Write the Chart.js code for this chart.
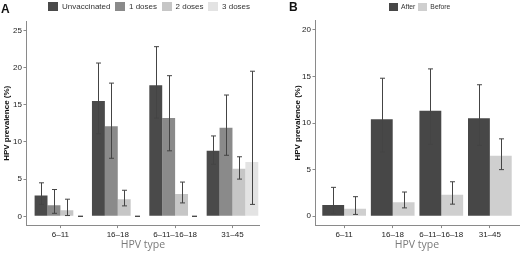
<!DOCTYPE html>
<html>
<head>
<meta charset="utf-8">
<script src="https://cdn.jsdelivr.net/npm/chart.js@4/dist/chart.umd.min.js"></script>
<style>
    body { margin: 0; background: #fff; font-family: "Liberation Sans", Arial, sans-serif; }
    .panel { position: absolute; top: 0; width: 260px; height: 253px; }
    #panelA { left: 0; }
    #panelB { left: 260px; }
    .tag { position: absolute; font: bold 12px/12px "Liberation Sans", Arial, sans-serif; color: #111; }
    .legend { position: absolute; top: 2px; display: flex; align-items: center; color: #333; white-space: nowrap; }
    .legend .item { display: flex; align-items: center; }
    #legendA { font-size: 8px; }
    #legendA .item { margin-right: 4.5px; }
    #legendA .box { width: 10px; height: 9px; margin-right: 4px; }
    #legendB { font-size: 6.8px; top: 2.5px; }
    #legendB .item { margin-right: 3px; }
    #legendB .box { width: 9px; height: 8.5px; margin-right: 3px; }
</style>
</head>
<body>
<div class="panel" id="panelA">
    <canvas id="chartA" width="260" height="253"></canvas>
    <div class="tag" style="left:1px; top:2.5px">A</div>
    <div class="legend" id="legendA" style="left:48px"></div>
</div>
<div class="panel" id="panelB">
    <canvas id="chartB" width="260" height="253"></canvas>
    <div class="tag" style="left:29px; top:1px">B</div>
    <div class="legend" id="legendB" style="left:129px"></div>
</div>

<script>
const categories = ['6–11', '16–18', '6–11–16–18', '31–45'];
const yTicksA = [0, 5, 10, 15, 20, 25];
const yTicksB = [0, 5, 10, 15, 20];

// panel A: by vaccination doses
const seriesA = ['Unvaccinated', '1 doses', '2 doses', '3 doses'];
const unvaccinated = [2.8, 15.5, 17.6, 8.8];
const unvaccinatedLow = [1.6, 11.1, 13.2, 7.0];
const unvaccinatedHigh = [4.5, 20.6, 22.8, 10.8];
const dose1 = [1.5, 12.1, 13.2, 11.9];
const dose1Low = [0.4, 7.8, 8.8, 8.2];
const dose1High = [3.6, 17.9, 18.9, 16.3];
const dose2 = [0.8, 2.3, 3.0, 6.4];
const dose2Low = [0.1, 1.4, 1.8, 5.0];
const dose2High = [2.3, 3.5, 4.6, 8.0];
const dose3 = [0, 0, 0, 7.3];
const dose3Low = [0, 0, 0, 1.6];
const dose3High = [0, 0, 0, 19.5];

// panel B: after / before
const seriesB = ['After', 'Before'];
const after = [1.2, 10.4, 11.3, 10.5];
const afterLow = [0.3, 6.9, 7.7, 7.6];
const afterHigh = [3.1, 14.8, 15.8, 14.1];
const before = [0.8, 1.5, 2.3, 6.5];
const beforeLow = [0.2, 0.9, 1.3, 5.0];
const beforeHigh = [2.1, 2.6, 3.7, 8.3];

const coloursA = ['#4a4a4a', '#8a8a8a', '#c6c6c6', '#e3e3e3'];
const coloursB = ['#474747', '#cfcfcf'];
const axisGrey = '#8a8a8a';

// error bars drawn from the low/high arrays with the y scale
const errorBars = {
    id: 'errorBars',
    afterDatasetsDraw(chart) {
        const ctx = chart.ctx;
        const y = chart.scales.y;
        ctx.save();
        ctx.strokeStyle = '#444';
        ctx.lineWidth = 1;
        chart.data.datasets.forEach((ds, i) => {
            const meta = chart.getDatasetMeta(i);
            meta.data.forEach((bar, j) => {
                const x = Math.round(bar.x) + 0.5;
                const yl = y.getPixelForValue(ds.low[j]);
                const yh = y.getPixelForValue(ds.high[j]);
                const w = 2.5;
                ctx.beginPath();
                ctx.moveTo(x, yl); ctx.lineTo(x, yh);
                ctx.moveTo(x - w, yl); ctx.lineTo(x + w, yl);
                ctx.moveTo(x - w, yh); ctx.lineTo(x + w, yh);
                ctx.stroke();
            });
        });
        ctx.restore();
    }
};

function makeDataset(label, values, low, high, colour) {
    return {
        label: label,
        data: values.map((v, i) => ({x: i + 1, y: v})),
        low: low,
        high: high,
        backgroundColor: colour,
        borderWidth: 0,
        categoryPercentage: 0.9,
        barPercentage: 1
    };
}

function buildLegend(id, names, colours) {
    const el = document.getElementById(id);
    names.forEach((n, i) => {
        const item = document.createElement('div');
        item.className = 'item';
        item.innerHTML = '<span class="box" style="background:' + colours[i] + '"></span><span>' + n + '</span>';
        el.appendChild(item);
    });
}

function createChart(canvasId, datasets, opt) {
    const ctx = document.getElementById(canvasId).getContext('2d');
    return new Chart(ctx, {
        type: 'bar',
        data: { datasets: datasets },
        plugins: [errorBars],
        options: {
            responsive: false,
            animation: false,
            layout: { padding: { top: opt.top, left: 0, right: opt.right, bottom: 0 } },
            plugins: { legend: { display: false }, tooltip: { enabled: false } },
            scales: {
                x: {
                    type: 'linear',
                    min: 0.4,
                    max: opt.xMax,
                    offset: false,
                    afterBuildTicks: s => { s.ticks = categories.map((c, i) => ({value: i + 1})); },
                    afterFit: s => { s.height = 27.4; },
                    ticks: {
                        callback: v => categories[Math.round(v) - 1],
                        font: { family: 'Liberation Sans', size: 8 },
                        color: '#222',
                        padding: 1.5,
                        maxRotation: 0,
                        autoSkip: false
                    },
                    grid: { offset: false, drawOnChartArea: false, drawTicks: true, tickLength: 2.5, color: axisGrey },
                    border: { color: axisGrey, width: 1 },
                    title: {
                        display: true,
                        text: 'HPV type',
                        color: '#7a7a7a',
                        font: { family: 'Open Sans', size: 10.5 },
                        padding: { top: 0, bottom: 1.5 }
                    }
                },
                y: {
                    min: opt.yMin,
                    max: opt.yMax,
                    afterBuildTicks: s => { s.ticks = opt.yTicks.map(v => ({value: v})); },
                    afterFit: s => { s.width = opt.yWidth; },
                    ticks: {
                        font: { family: 'Liberation Sans', size: 8 },
                        color: '#222',
                        padding: 1.5
                    },
                    grid: { drawOnChartArea: false, drawTicks: true, tickLength: 2.5, color: axisGrey },
                    border: { color: axisGrey, width: 1 },
                    title: {
                        display: true,
                        text: 'HPV prevalence (%)',
                        color: '#111',
                        font: { family: 'Liberation Sans', size: 8, weight: 'bold' },
                        padding: { top: opt.titlePad, bottom: 0 }
                    }
                }
            }
        }
    });
}

buildLegend('legendA', seriesA, coloursA);
buildLegend('legendB', seriesB, coloursB);

createChart('chartA', [
    makeDataset(seriesA[0], unvaccinated, unvaccinatedLow, unvaccinatedHigh, coloursA[0]),
    makeDataset(seriesA[1], dose1, dose1Low, dose1High, coloursA[1]),
    makeDataset(seriesA[2], dose2, dose2Low, dose2High, coloursA[2]),
    makeDataset(seriesA[3], dose3, dose3Low, dose3High, coloursA[3])
], { top: 21, right: 0, xMax: 4.48, yMin: -1.25, yMax: 26.25, yTicks: yTicksA, yWidth: 26, titlePad: 2 });

createChart('chartB', [
    makeDataset(seriesB[0], after, afterLow, afterHigh, coloursB[0]),
    makeDataset(seriesB[1], before, beforeLow, beforeHigh, coloursB[1])
], { top: 20.4, right: 1, xMax: 4.6, yMin: -1, yMax: 21, yTicks: yTicksB, yWidth: 55, titlePad: 32.7 });
</script>
</body>
</html>
